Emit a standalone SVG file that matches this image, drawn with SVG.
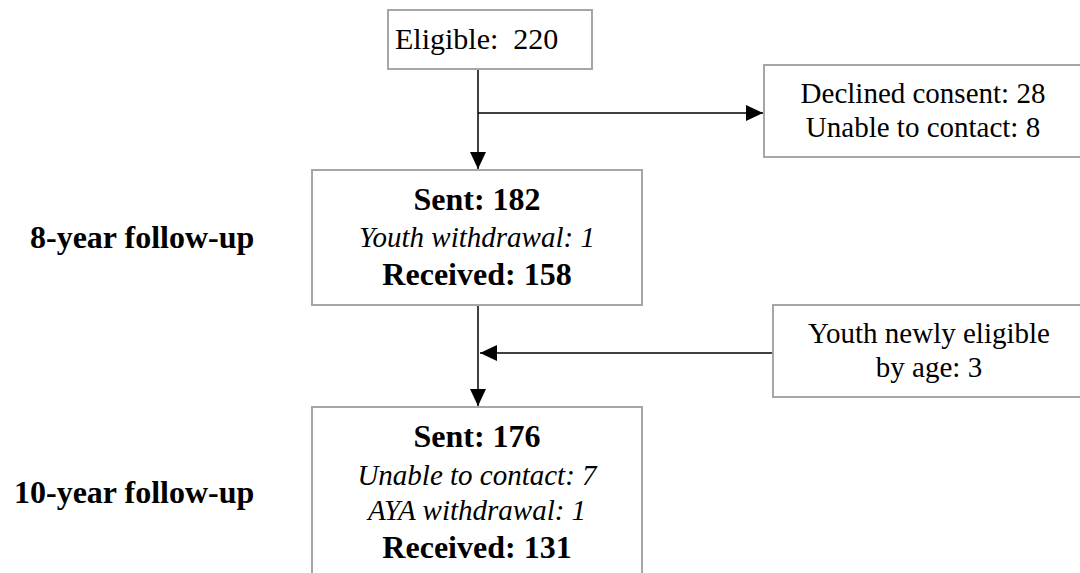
<svg xmlns="http://www.w3.org/2000/svg" width="1080" height="573" viewBox="0 0 1080 573">
<style>
.box{fill:#fff;stroke:#a6a6a6;stroke-width:2}
.t{font-family:"Liberation Serif","Times New Roman",serif;fill:#000}
.r{font-size:29px}
.b{font-size:32px;font-weight:bold}
.i{font-size:29px;font-style:italic}
.c{text-anchor:middle}
.ln{stroke:#000;stroke-width:1.5;fill:none}
</style>
<defs>
<marker id="ah" markerUnits="userSpaceOnUse" markerWidth="17" markerHeight="16" viewBox="0 0 17 16" refX="17" refY="8" orient="auto">
<path d="M0,0 L17,8 L0,16 Z" fill="#000"/>
</marker>
</defs>
<g id="connectors">
<line class="ln" x1="478" y1="69" x2="478" y2="169" marker-end="url(#ah)"/>
<line class="ln" x1="478" y1="113" x2="763" y2="113" marker-end="url(#ah)"/>
<line class="ln" x1="478" y1="306" x2="478" y2="406" marker-end="url(#ah)"/>
<line class="ln" x1="773" y1="353" x2="480" y2="353" marker-end="url(#ah)"/>
</g>
<g id="eligible">
<rect class="box" x="388" y="10" width="204" height="59"/>
<text class="t" x="395" y="49" font-size="30px" xml:space="preserve" style="white-space:pre">Eligible:  220</text>
</g>
<g id="declined">
<rect class="box" x="764" y="65" width="330" height="92"/>
<text class="t r c" x="923" y="103">Declined consent: 28</text>
<text class="t r c" x="923" y="137">Unable to contact: 8</text>
</g>
<g id="label8">
<text class="t b" x="30" y="248">8-year follow-up</text>
</g>
<g id="sent182">
<rect class="box" x="312" y="170" width="330" height="135"/>
<text class="t b c" x="477" y="210">Sent: 182</text>
<text class="t i c" x="477" y="247">Youth withdrawal: 1</text>
<text class="t b c" x="477" y="285">Received: 158</text>
</g>
<g id="newly">
<rect class="box" x="773" y="305" width="320" height="92"/>
<text class="t r c" x="929" y="343">Youth newly eligible</text>
<text class="t r c" x="929" y="377">by age: 3</text>
</g>
<g id="label10">
<text class="t b" x="14" y="503">10-year follow-up</text>
</g>
<g id="sent176">
<rect class="box" x="312" y="407" width="330" height="180"/>
<text class="t b c" x="477" y="447">Sent: 176</text>
<text class="t i c" x="477" y="485">Unable to contact: 7</text>
<text class="t i c" x="477" y="520">AYA withdrawal: 1</text>
<text class="t b c" x="477" y="558">Received: 131</text>
</g>
</svg>
